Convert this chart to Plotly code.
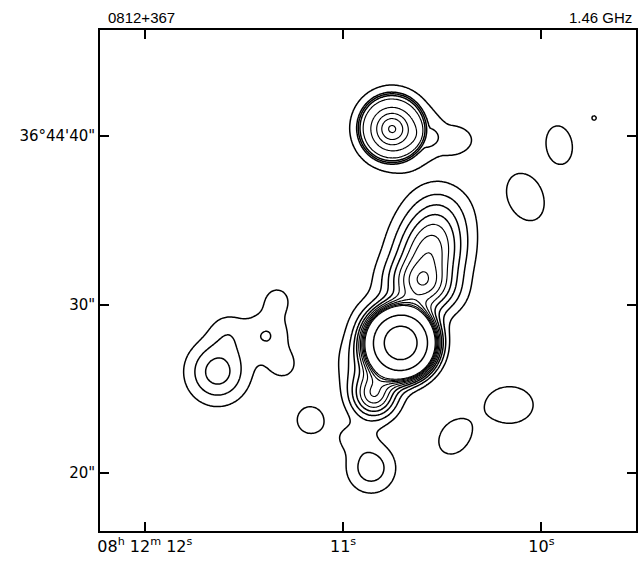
import numpy as np
import plotly.graph_objects as go

# ---- data (sky positions: RA seconds of 08h12m, Dec arcsec of 36d44') ----
comp_name = ["core", "north_plateau", "north_halo", "north_peak", "north_tail",
             "jet_m16", "jet_knot", "jet_16", "jet_32", "jet_48", "jet_64", "jet_80", "jet_96",
             "env_w1", "env_w2", "south_blob", "south_lobe", "neck",
             "left_core", "left_e1", "left_e2", "left_e3", "left_e4",
             "isl_w", "isl_se1", "isl_se2", "isl_ne1", "isl_ne2", "isl_dot"]
comp_ra = [10.709, 10.754, 10.754, 10.754, 10.462,
           10.623, 10.603, 10.583, 10.564, 10.545, 10.526, 10.507, 10.487,
           10.894, 10.859, 10.844, 10.859, 10.960,
           11.633, 11.382, 11.332, 11.302, 11.583,
           11.166, 10.437, 10.161, 10.080, 9.910, 9.734]
comp_dec = [27.72, 40.47, 40.47, 40.42, 39.76,
            30.33, 31.28, 32.20, 33.12, 34.04, 34.96, 35.89, 36.80,
            26.59, 29.08, 24.63, 20.30, 22.14,
            26.00, 28.19, 30.27, 26.41, 28.49,
            23.15, 22.14, 24.04, 36.38, 39.47, 41.07]
comp_peak = [100.0, 3.6, 1.3, 4.2, 1.55,
             2.2, 5.1, 2.4, 3.3, 2.6, 2.0, 1.2, 0.6,
             2.0, 1.2, 6.5, 2.6, 1.1,
             3.5, 1.96, 1.4, 1.4, 1.2,
             1.8, 1.8, 1.8, 1.8, 1.8, 1.03]
comp_bmaj = [0.97, 1.98, 2.75, 0.78, 0.92,
             0.90, 0.90, 0.90, 0.90, 0.90, 0.90, 0.90, 0.90,
             1.20, 1.20, 0.95, 1.08, 0.65,
             1.30, 1.02, 0.66, 0.66, 0.84,
             0.72, 1.02, 1.00, 1.35, 1.05, 0.50]
comp_bmin = [0.97, 1.98, 2.75, 0.78, 1.40,
             1.44, 1.44, 1.44, 1.44, 1.44, 1.44, 1.44, 1.44,
             1.20, 1.20, 0.95, 1.08, 0.90,
             1.30, 1.02, 0.66, 0.66, 0.84,
             0.72, 0.78, 1.32, 0.96, 0.72, 0.50]
comp_pa = [0, 0, 0, 0, 0,
           -14, -14, -14, -14, -14, -14, -14, -14,
           0, 0, 0, 0, 0,
           0, 0, 0, 0, 0,
           0, -40, 0, 25, 10, 0]
comp_shape = [2, 16, 8, 2, 2,
              2, 2, 2, 2, 2, 2, 2, 2,
              2, 2, 2, 2, 2,
              2, 2, 2, 2, 2,
              2, 2, 2, 2, 2, 2]

levels_outer = [1, 2, 3, 4]
levels_inner = [5, 6, 7, 8, 9, 10]
levels_high = [25, 60]

x_ticks = [12, 11, 10]
x_ticktext = ["08<sup>h</sup> 12<sup>m</sup> 12<sup>s</sup>", "11<sup>s</sup>", "10<sup>s</sup>"]
y_ticks = [40, 30, 20]
y_ticktext = ["36°44'40\"", "30\"", "20\""]

ra_range = [12.226, 9.523]
dec_range = [16.56, 46.29]

# ---- brightness map from the components ----
ra_grid = np.linspace(ra_range[0], ra_range[1], 420)
dec_grid = np.linspace(dec_range[0], dec_range[1], 460)
RA, DEC = np.meshgrid(ra_grid, dec_grid)
cosd = np.cos(np.radians(36 + 44 / 60 + 30 / 3600))
Z = np.zeros_like(RA)
for ra0, de0, A, a, b, pa, p in zip(comp_ra, comp_dec, comp_peak, comp_bmaj,
                                    comp_bmin, comp_pa, comp_shape):
    dx = (RA - ra0) * 15 * cosd
    dy = DEC - de0
    t = np.radians(pa)
    u = dx * np.sin(t) + dy * np.cos(t)
    v = dx * np.cos(t) - dy * np.sin(t)
    r = np.sqrt((u / a) ** 2 + (v / b) ** 2)
    Z += A * np.exp(-0.5 * r ** p)

fig = go.Figure()
for lv, w in ((levels_outer, 1.5), (levels_inner, 1.15), (levels_high, 1.5)):
    fig.add_trace(go.Contour(
        x=ra_grid, y=dec_grid, z=Z,
        contours=dict(start=lv[0], end=lv[-1],
                      size=(lv[1] - lv[0]) if len(lv) > 1 else 1,
                      coloring="none"),
        line=dict(color="black", width=w, smoothing=1.0),
        showscale=False, hoverinfo="skip"))

axis_common = dict(showline=True, linecolor="black", linewidth=1.6, mirror="ticks",
                   ticks="inside", ticklen=9, tickwidth=1.5, tickcolor="black",
                   showgrid=False, zeroline=False)
title_font = dict(family="Liberation Sans", size=15, color="black")
fig.update_layout(
    width=639, height=567,
    margin=dict(l=100, r=1, t=30, b=36),
    paper_bgcolor="white", plot_bgcolor="white",
    showlegend=False,
    xaxis=dict(range=ra_range, tickvals=x_ticks, ticktext=x_ticktext,
               tickfont=dict(family="DejaVu Sans", size=16, color="black"), **axis_common),
    yaxis=dict(range=dec_range, tickvals=y_ticks, ticktext=y_ticktext,
               tickfont=dict(family="DejaVu Sans", size=15, color="black"), **axis_common),
    annotations=[
        dict(text="0812+367", xref="paper", yref="paper", x=0.012, y=1.0, yshift=2,
             xanchor="left", yanchor="bottom", showarrow=False, font=title_font),
        dict(text="1.46 GHz", xref="paper", yref="paper", x=0.996, y=1.0, yshift=2,
             xanchor="right", yanchor="bottom", showarrow=False, font=title_font),
    ],
)
fig.write_html("out.html", config={"displayModeBar": False},
               post_script="document.body.style.margin='0px';")
